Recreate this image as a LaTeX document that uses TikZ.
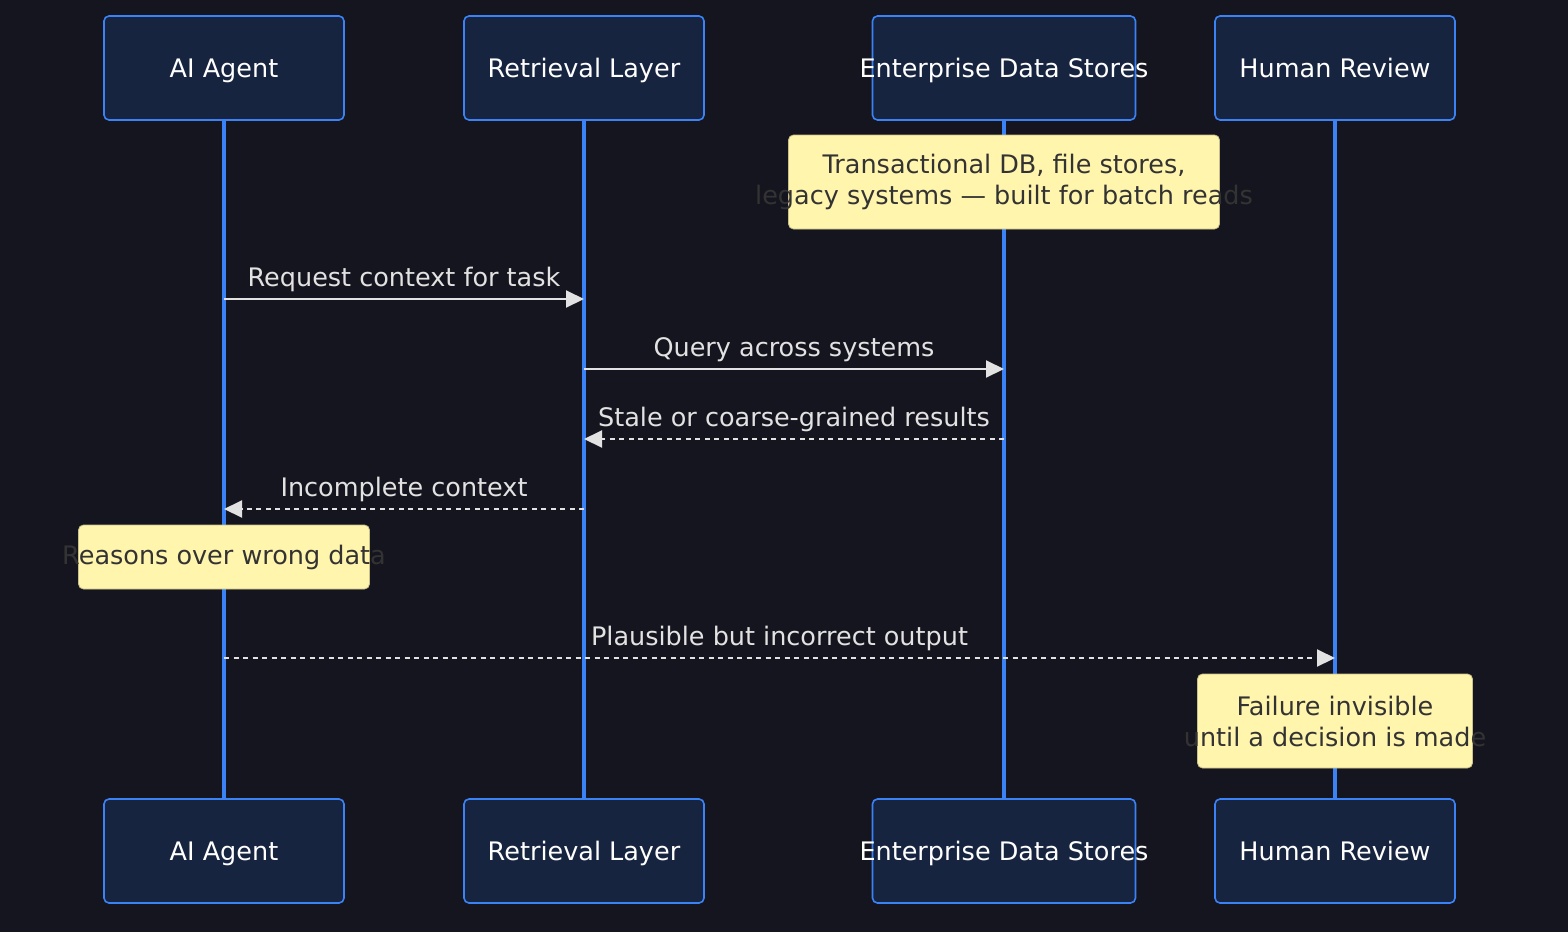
\documentclass[tikz,border=0pt]{standalone}
\usepackage{fontspec}
\setmainfont{DejaVu Sans}
\usetikzlibrary{arrows.meta,positioning}
\definecolor{bgDark}{HTML}{15151F}
\definecolor{actFill}{HTML}{172440}
\definecolor{actLine}{HTML}{3B82F6}
\definecolor{noteFill}{HTML}{FFF5AD}
\definecolor{noteLine}{HTML}{C9C08A}
\definecolor{noteText}{HTML}{333333}
\definecolor{msgLine}{HTML}{E2E2E2}

\begin{document}
\begin{tikzpicture}[x=1pt, y=-1pt,
  every node/.style={font=\fontsize{25.5}{31}\selectfont},
  actor/.style={draw=actLine, line width=1.6pt, fill=actFill, rounded corners=5pt,
    text=white, minimum height=104pt, text height=18pt, text depth=0pt, inner xsep=0pt},
  lifeline/.style={actLine, line width=3.2pt},
  note/.style={draw=noteLine, line width=0.8pt, fill=noteFill, rounded corners=5pt,
    text=noteText, align=center, inner sep=0pt},
  msg/.style={msgLine, line width=2pt, -{Triangle[length=18pt,width=17pt]}},
  reply/.style={msg, dash pattern=on 5pt off 4.5pt},
  lbl/.style={text=msgLine, anchor=base, inner sep=0pt, yshift=13pt}]
  \fill[bgDark] (0,0) rectangle (1568,932);
  \useasboundingbox (0,0) rectangle (1568,932);

  % actors, top and bottom
  \foreach \n/\x/\w/\t in {ai/224/240/AI Agent, ret/584/240/Retrieval Layer,
      ent/1004/263/Enterprise Data Stores, hum/1335/240/Human Review} {
    \node[actor, minimum width=\w pt] (\n Top) at (\x,68) {\makebox[0pt]{\t}};
    \node[actor, minimum width=\w pt] (\n Bot) at (\x,851) {\makebox[0pt]{\t}};
    \draw[lifeline] (\n Top.south) -- (\n Bot.north);
  }

  \node[note, minimum width=431pt, minimum height=94pt] (noteStores) at (entTop |- 0,182)
    {\makebox[0pt]{Transactional DB, file stores,}\\\makebox[0pt]{legacy systems — built for batch reads}};

  \draw[msg] (aiTop |- 0,299) -- node[lbl] (lRequest) {Request context for task} (retTop |- 0,299);
  \draw[msg] (retTop |- 0,369) -- node[lbl] (lQuery) {Query across systems} (entTop |- 0,369);
  \draw[reply] (entTop |- 0,439) -- node[lbl] (lStale) {Stale or coarse-grained results} (retTop |- 0,439);
  \draw[reply] (retTop |- 0,509) -- node[lbl] (lIncomplete) {Incomplete context} (aiTop |- 0,509);

  \node[note, minimum width=291pt, minimum height=64pt] (noteReason) at (aiTop |- 0,557)
    {\makebox[0pt]{Reasons over wrong data}};

  \draw[reply] (aiTop |- 0,658) -- node[lbl] (lOutput) {Plausible but incorrect output} (humTop |- 0,658);

  \node[note, minimum width=275pt, minimum height=94pt] (noteFailure) at (humTop |- 0,721)
    {\makebox[0pt]{Failure invisible}\\\makebox[0pt]{until a decision is made}};
\end{tikzpicture}
\end{document}
